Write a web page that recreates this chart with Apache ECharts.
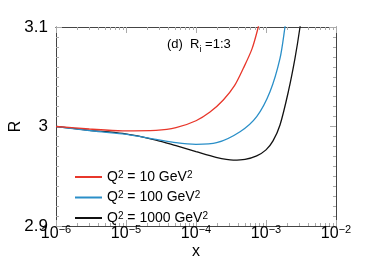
<!DOCTYPE html>
<html><head><meta charset="utf-8">
<script src="https://cdn.jsdelivr.net/npm/echarts@6/dist/echarts.min.js"></script>
<style>html,body{margin:0;padding:0;background:#fff}#c{width:374px;height:264px}</style>
</head><body><div id="c"></div>
<script>
// x values are log10(x) exponents
const seriesNames = ['Q² = 10 GeV²', 'Q² = 100 GeV²', 'Q² = 1000 GeV²'];
const redLogX = [-6, -5.524, -5.048, -4.571, -4.286, -4.0, -3.8, -3.61, -3.45, -3.324, -3.2, -3.11, -3.06];
const redR    = [3.000, 2.9975, 2.9957, 2.9962, 2.9988, 3.0058, 3.0145, 3.0266, 3.041, 3.0585, 3.078, 3.1, 3.115];
const blueLogX = [-6, -5.524, -5.048, -4.571, -4.286, -4.0, -3.705, -3.371, -3.133, -2.943, -2.8, -2.729, -2.69];
const blueR    = [3.000, 2.9960, 2.9925, 2.9871, 2.9837, 2.9821, 2.9837, 2.9948, 3.010, 3.035, 3.0685, 3.1, 3.12];
const blackLogX = [-6, -5.524, -5.048, -4.571, -4.286, -4.0, -3.714, -3.467, -3.3, -3.133, -3.0, -2.9, -2.8, -2.681, -2.586, -2.514, -2.48];
const blackR    = [3.000, 2.9962, 2.9930, 2.9864, 2.9807, 2.9747, 2.9690, 2.9663, 2.9670, 2.9705, 2.9765, 2.9855, 3.0015, 3.035, 3.0685, 3.1, 3.12];
const xDecades = [-6, -5, -4, -3, -2];
const yTicks = [2.9, 3.0, 3.1];
const colors = ['#e8372b', '#2a8fc8', '#111111'];

const FONT = 'Liberation Sans, Arial, Helvetica, sans-serif';
const minorX = [];
for (let i = 0; i < xDecades.length - 1; i++) {
  for (let k = 2; k <= 9; k++) minorX.push(xDecades[i] + Math.log10(k));
}
function pairs(xs, ys) { return xs.map((x, i) => [x, ys[i]]); }
const tickColor = '#aaa';
const lineColor = '#444';
const xLabelFmt = v => '{b|10}{s|' + (v < 0 ? '−' : '') + Math.abs(Math.round(v)) + '}';
const xLabelRich = {
  b: {fontSize: 16, fontFamily: FONT, color: '#000', lineHeight: 18, verticalAlign: 'bottom'},
  s: {fontSize: 11, fontFamily: FONT, color: '#000', lineHeight: 12, verticalAlign: 'top'}
};
function xAxisDef(pos, major, showLabel) {
  return {
    type: 'value', position: pos, min: xDecades[0], max: xDecades[xDecades.length - 1], interval: 1,
    axisLine: {show: true, onZero: false, lineStyle: {color: lineColor, width: 1}},
    axisTick: major ? {show: true, inside: true, length: 6, lineStyle: {color: tickColor}}
                    : {show: true, inside: true, length: 3, customValues: minorX, lineStyle: {color: tickColor}},
    axisLabel: showLabel ? {show: true, margin: -2, formatter: xLabelFmt, rich: xLabelRich} : {show: false},
    splitLine: {show: false},
    name: showLabel ? 'x' : '', nameLocation: 'middle', nameGap: 18, nameMoveOverlap: false,
    nameTextStyle: {fontSize: 16, fontFamily: FONT, color: '#000'}
  };
}
function yAxisDef(pos, showLabel) {
  return {
    type: 'value', position: pos, min: yTicks[0], max: yTicks[yTicks.length - 1], interval: 0.1,
    axisLine: {show: true, onZero: false, lineStyle: {color: lineColor, width: 1}},
    axisTick: {show: true, inside: true, length: 6, lineStyle: {color: tickColor}},
    minorTick: {show: true, splitNumber: 10, length: 3, lineStyle: {color: tickColor}},
    axisLabel: showLabel ? {show: true, margin: 8, fontSize: 17, fontFamily: FONT, color: '#000'} : {show: false},
    splitLine: {show: false}, minorSplitLine: {show: false},
    name: showLabel ? 'R' : '', nameLocation: 'middle', nameGap: 32, nameRotate: 90, nameMoveOverlap: false,
    nameTextStyle: {fontSize: 16, fontFamily: FONT, color: '#000'}
  };
}
const chart = echarts.init(document.getElementById('c'), null, {renderer: 'canvas'});
const dataSets = [pairs(redLogX, redR), pairs(blueLogX, blueR), pairs(blackLogX, blackR)];
chart.setOption({
  animation: false,
  backgroundColor: '#fff',
  grid: {left: 56, right: 38, top: 27, bottom: 38, containLabel: false, outerBoundsMode: 'none'},
  xAxis: [xAxisDef('bottom', true, true), xAxisDef('bottom', false, false), xAxisDef('top', true, false), xAxisDef('top', false, false)],
  yAxis: [yAxisDef('left', true), yAxisDef('right', false)],
  legend: {
    orient: 'vertical', left: 70, top: 165, itemWidth: 27, itemHeight: 2, itemGap: 6.5, icon: 'rect',
    data: seriesNames,
    formatter: n => n.replace(/²/g, '{s|2}'),
    textStyle: {fontSize: 14, fontFamily: FONT, color: '#000', padding: [0, 0, 0, 0],
      rich: {s: {fontSize: 10, fontFamily: FONT, color: '#000', verticalAlign: 'top', lineHeight: 10}}}
  },
  graphic: [{
    type: 'text', left: 167, top: 38,
    style: {
      text: '(d)  R{i|i} =1:3', fontSize: 13, fontFamily: FONT, fill: '#000',
      rich: {i: {fontSize: 9, fontFamily: FONT, fill: '#000', verticalAlign: 'bottom', lineHeight: 20}}
    }
  }],
  series: dataSets.map((d, i) => ({
    name: seriesNames[i], type: 'line', data: d, smooth: 0.3, showSymbol: false, symbol: 'none',
    clip: true, lineStyle: {color: colors[i], width: 1.3}, itemStyle: {color: colors[i]}, z: 3 - i
  }))
});
</script></body></html>
